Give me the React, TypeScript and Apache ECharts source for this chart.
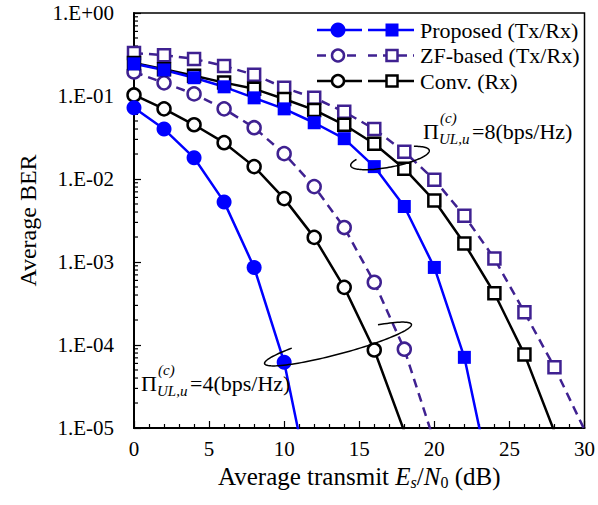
import React, { useEffect, useRef } from "react";
import * as echarts from "echarts";

// ---- data ----
const xProp4 = [0, 2, 4, 6, 8, 10, 12];
const berProp4 = [0.072, 0.040, 0.018, 0.0053, 0.00086, 6.2e-5, 1.1e-6];

const xProp8 = [0, 2, 4, 6, 8, 10, 12, 14, 16, 18, 20, 22, 24];
const berProp8 = [0.244, 0.206, 0.166, 0.129, 0.095, 0.070, 0.0476, 0.0306, 0.0141, 0.00466, 0.00086, 7.1e-5, 1.4e-6];

const xZF4 = [0, 2, 4, 6, 8, 10, 12, 14, 16, 18, 20];
const berZF4 = [0.195, 0.144, 0.106, 0.070, 0.0415, 0.0202, 0.0081, 0.0026, 0.00057, 8.9e-5, 6.8e-6];

const xZF8 = [0, 2, 4, 6, 8, 10, 12, 14, 16, 18, 20, 22, 24, 26, 28, 30];
const berZF8 = [0.33, 0.31, 0.28, 0.23, 0.18, 0.126, 0.095, 0.0645, 0.040, 0.0213, 0.0098, 0.0036, 0.0011, 0.000248, 5.4e-5, 9.5e-6];

const xConv4 = [0, 2, 4, 6, 8, 10, 12, 14, 16, 18];
const berConv4 = [0.103, 0.070, 0.045, 0.0274, 0.0141, 0.0058, 0.00198, 0.000495, 8.7e-5, 9.1e-6];

const xConv8 = [0, 2, 4, 6, 8, 10, 12, 14, 16, 18, 20, 22, 24, 26, 28];
const berConv8 = [0.25, 0.21, 0.175, 0.145, 0.122, 0.092, 0.068, 0.045, 0.0266, 0.0133, 0.0055, 0.00167, 0.00042, 7.7e-5, 9e-6];

const legendLabels = ["Proposed (Tx/Rx)", "ZF-based (Tx/Rx)", "Conv. (Rx)"];
const rateLabels = ["=8(bps/Hz)", "=4(bps/Hz)"];
const yMinorMultipliers = [2, 3, 4, 5, 6, 7, 8, 9];
const yDecades = [1e-5, 1e-4, 1e-3, 1e-2, 1e-1];

const BLUE = "#0000FF";
const PURPLE = "#3F2191";
const BLACK = "#000000";
const FONT = "Liberation Serif";

function zip(xs: number[], ys: number[]) {
  return xs.map((x, i) => [x, ys[i]]);
}

function ellipsePts(cx: number, cy: number, rx: number, ry: number, rotDeg: number, t0: number, t1: number) {
  const pts: number[][] = [];
  const r = (rotDeg * Math.PI) / 180;
  const c = Math.cos(r), s = Math.sin(r);
  for (let t = t0; t <= t1; t += 3) {
    const a = (t * Math.PI) / 180;
    const lx = rx * Math.cos(a), ly = ry * Math.sin(a);
    pts.push([cx + lx * c - ly * s, cy + lx * s + ly * c]);
  }
  return pts;
}

export default function App() {
  const ref = useRef<HTMLDivElement>(null);
  useEffect(() => {
    if (!ref.current) return;
    const chart = echarts.init(ref.current, undefined, { renderer: "svg" });

    const lineSeries = (
      name: string, xs: number[], ys: number[], color: string,
      symbol: string, size: number, filled: boolean, dashed: boolean
    ) => ({
      name,
      type: "line",
      data: zip(xs, ys),
      symbol,
      symbolSize: size,
      showAllSymbol: true,
      clip: true,
      lineStyle: { color, width: 2.5, type: dashed ? [9, 6] : "solid" },
      itemStyle: { color: filled ? color : "#ffffff", borderColor: color, borderWidth: filled ? 0 : 2.5 },
      z: 3,
    });

    const minorTicks: number[][] = [];
    yDecades.forEach((d) => yMinorMultipliers.forEach((m) => minorTicks.push([0, d * m])));

    const legendRows = [
      { color: BLUE, dashed: false, filled: true, y: 30 },
      { color: PURPLE, dashed: true, filled: false, y: 55.5 },
      { color: BLACK, dashed: false, filled: false, y: 81 },
    ];
    const graphics: any[] = [];
    legendRows.forEach((row, i) => {
      const ls = { stroke: row.color, lineWidth: 2.5, lineDash: row.dashed ? [9, 6] : null };
      graphics.push({ type: "line", shape: { x1: 317, y1: row.y, x2: 362, y2: row.y }, style: ls, z: 10 });
      graphics.push({ type: "line", shape: { x1: 368, y1: row.y, x2: 414, y2: row.y }, style: ls, z: 10 });
      graphics.push({
        type: "circle", shape: { cx: 338, cy: row.y, r: row.filled ? 7.5 : 6 },
        style: { fill: row.filled ? row.color : "#fff", stroke: row.color, lineWidth: row.filled ? 0 : 2.5 }, z: 11,
      });
      const sq = row.filled ? 13 : 11;
      graphics.push({
        type: "rect", shape: { x: 392 - sq / 2, y: row.y - sq / 2, width: sq, height: sq },
        style: { fill: row.filled ? row.color : "#fff", stroke: row.color, lineWidth: row.filled ? 0 : 2.5 }, z: 11,
      });
      graphics.push({
        type: "text", x: 420, y: row.y,
        style: { text: legendLabels[i], font: `22px "${FONT}"`, fill: "#000", verticalAlign: "middle" }, z: 11,
      });
    });

    const piLabel = (px: number, py: number, text: string) => [
      { type: "text", x: px, y: py, style: { text: "Π", font: `22px "${FONT}"`, fill: "#000", verticalAlign: "middle" }, z: 11 },
      { type: "text", x: px + 17, y: py - 13, style: { text: "(c)", font: `italic 15px "${FONT}"`, fill: "#000", verticalAlign: "middle" }, z: 11 },
      { type: "text", x: px + 16, y: py + 8, style: { text: "UL,u", font: `italic 15px "${FONT}"`, fill: "#000", verticalAlign: "middle" }, z: 11 },
      { type: "text", x: px + 49, y: py, style: { text, font: `22px "${FONT}"`, fill: "#000", verticalAlign: "middle" }, z: 11 },
    ];
    graphics.push(...piLabel(423, 131, rateLabels[0]));
    graphics.push(...piLabel(141, 383, rateLabels[1]));

    graphics.push({
      type: "polyline", shape: { points: ellipsePts(390, 158, 40, 9, -11, -50, 215) },
      style: { stroke: "#000", lineWidth: 1.5, fill: null }, z: 12,
    });
    graphics.push({
      type: "polyline", shape: { points: ellipsePts(338, 344, 76, 10, -15, -55, 235) },
      style: { stroke: "#000", lineWidth: 1.5, fill: null }, z: 12,
    });

    chart.setOption({
      animation: false,
      backgroundColor: "#ffffff",
      textStyle: { fontFamily: FONT },
      grid: { left: 134, top: 13, right: 11, bottom: 77, show: true, borderColor: "#000", borderWidth: 1.5, backgroundColor: "transparent" },
      xAxis: {
        type: "value", min: 0, max: 30, interval: 5,
        name: "Average transmit {i|E}{isub|s}/{i|N}{sub|0} (dB)",
        nameLocation: "middle", nameGap: 24,
        nameTextStyle: {
          fontFamily: FONT, fontSize: 25, color: "#000",
          rich: {
            i: { fontFamily: FONT, fontSize: 25, fontStyle: "italic", color: "#000" },
            isub: { fontFamily: FONT, fontSize: 16, fontStyle: "italic", color: "#000", padding: [12, 0, 0, 0] },
            sub: { fontFamily: FONT, fontSize: 16, color: "#000", padding: [12, 0, 0, 0] },
          },
        },
        axisLine: { show: true, onZero: false, lineStyle: { color: "#000", width: 2 } },
        axisTick: { show: true, inside: true, length: 7, lineStyle: { color: "#000", width: 1.2 } },
        minorTick: { show: true, splitNumber: 5, length: 4, lineStyle: { color: "#000", width: 1.2 } },
        axisLabel: { fontFamily: FONT, fontSize: 21, color: "#000", margin: 10 },
        splitLine: { show: false },
      },
      yAxis: {
        type: "log", logBase: 10, min: 1e-5, max: 1, splitNumber: 5,
        name: "Average BER", nameLocation: "middle", nameGap: 94,
        nameTextStyle: { fontFamily: FONT, fontSize: 24, color: "#000" },
        axisLine: { show: true, onZero: false, lineStyle: { color: "#000", width: 2 } },
        axisTick: { show: true, inside: true, length: 7, lineStyle: { color: "#000", width: 1.2 } },
        axisLabel: {
          fontFamily: FONT, fontSize: 21, color: "#000", margin: 20,
          formatter: (v: number) => {
            const e = Math.round(Math.log10(v));
            return "1.E" + (e < 0 ? "-" : "+") + String(Math.abs(e)).padStart(2, "0");
          },
        },
        splitLine: { show: false },
      },
      series: [
        {
          type: "custom", silent: true, data: minorTicks, z: 2,
          renderItem: (params: any, api: any) => {
            const p = api.coord([0, api.value(1)]);
            return { type: "line", shape: { x1: p[0], y1: p[1], x2: p[0] + 4, y2: p[1] }, style: { stroke: "#000", lineWidth: 1.2 } };
          },
        },
        lineSeries("ZF-based 8", xZF8, berZF8, PURPLE, "rect", 12, false, true),
        lineSeries("ZF-based 4", xZF4, berZF4, PURPLE, "circle", 13, false, true),
        lineSeries("Conv. 8", xConv8, berConv8, BLACK, "rect", 12, false, false),
        lineSeries("Conv. 4", xConv4, berConv4, BLACK, "circle", 13, false, false),
        lineSeries("Proposed 8", xProp8, berProp8, BLUE, "rect", 13, true, false),
        lineSeries("Proposed 4", xProp4, berProp4, BLUE, "circle", 15, true, false),
      ],
      graphic: graphics,
    });
    return () => chart.dispose();
  }, []);
  return <div ref={ref} style={{ position: "fixed", left: 0, top: 0, width: 598, height: 505 }} />;
}
